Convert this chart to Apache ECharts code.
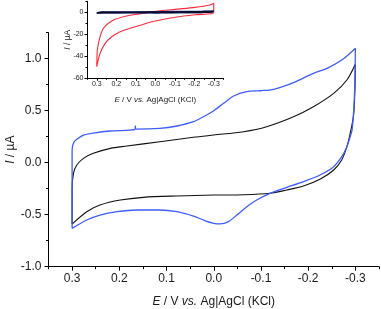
<!DOCTYPE html>
<html><head><meta charset="utf-8">
<script src="https://cdn.jsdelivr.net/npm/echarts@6/dist/echarts.min.js"></script>
<style>html,body{margin:0;padding:0;background:#fff}#c{width:381px;height:309px}</style>
</head><body><div id="c"></div>
<script>
// ---- data (E in V, I in µA) ----
const blueUpE = [0.300, 0.300, 0.297, 0.290, 0.276, 0.255, 0.220, 0.167, 0.166, 0.165, 0.114, 0.078, 0.043, 0.015, 0.000, -0.021, -0.042, -0.070, -0.098, -0.127, -0.169, -0.211, -0.240, -0.275, -0.300];
const blueUpI = [-0.631, 0.122, 0.190, 0.225, 0.266, 0.285, 0.305, 0.320, 0.355, 0.322, 0.330, 0.353, 0.394, 0.459, 0.500, 0.571, 0.641, 0.683, 0.692, 0.706, 0.770, 0.859, 0.907, 1.000, 1.100];
const blueLowE = [-0.300, -0.299, -0.297, -0.293, -0.289, -0.282, -0.271, -0.254, -0.225, -0.190, -0.155, -0.119, -0.091, -0.070, -0.049, -0.031, -0.014, 0.000, 0.022, 0.043, 0.078, 0.114, 0.163, 0.205, 0.241, 0.269, 0.300];
const blueLowI = [1.100, 0.800, 0.550, 0.314, 0.250, 0.154, 0.058, -0.038, -0.118, -0.182, -0.237, -0.294, -0.359, -0.423, -0.503, -0.567, -0.589, -0.583, -0.551, -0.513, -0.471, -0.455, -0.455, -0.471, -0.503, -0.551, -0.631];
const blackUpE = [0.300, 0.300, 0.297, 0.290, 0.276, 0.255, 0.219, 0.184, 0.114, 0.043, 0.000, -0.063, -0.112, -0.169, -0.211, -0.254, -0.282, -0.300];
const blackUpI = [-0.590, -0.250, -0.100, -0.022, 0.042, 0.090, 0.138, 0.160, 0.202, 0.244, 0.266, 0.298, 0.346, 0.442, 0.538, 0.667, 0.795, 0.949];
const blackLowE = [-0.300, -0.299, -0.296, -0.289, -0.282, -0.271, -0.254, -0.225, -0.190, -0.155, -0.119, -0.063, 0.000, 0.078, 0.149, 0.198, 0.241, 0.269, 0.300];
const blackLowI = [0.949, 0.700, 0.450, 0.283, 0.154, 0.026, -0.070, -0.160, -0.224, -0.262, -0.294, -0.308, -0.311, -0.320, -0.333, -0.359, -0.407, -0.471, -0.590];
// inset red curve
const redUpE = [0.300, 0.299, 0.297, 0.283, 0.266, 0.240, 0.206, 0.163, 0.112, 0.061, 0.010, -0.100, -0.204, -0.280, -0.300];
const redUpI = [-49.4, -42.0, -34.3, -22.2, -14.5, -10.0, -6.4, -4.0, -2.2, -0.9, 0.6, 2.7, 4.5, 6.6, 8.2];
const redLowE = [-0.300, -0.204, -0.102, -0.025, 0.027, 0.078, 0.129, 0.180, 0.223, 0.257, 0.283, 0.300];
const redLowI = [-0.5, -2.2, -4.5, -7.0, -9.0, -11.8, -14.5, -17.6, -22.2, -28.2, -37.3, -49.4];
// ticks
const xMajor = [0.3, 0.2, 0.1, 0, -0.1, -0.2, -0.3];
const xMinor = [0.35, 0.25, 0.15, 0.05, -0.05, -0.15, -0.25, -0.35];
const yMajor = [-1, -0.5, 0, 0.5, 1];
const yMinor = [-0.75, -0.25, 0.25, 0.75, 1.25];
const insetYMajor = [-60, -40, -20, 0];
const insetYMinor = [-50, -30, -10, 10];

function pairs(E, I) { return E.map((e, k) => [e, I[k]]); }
const blue = pairs(blueUpE.concat(blueLowE), blueUpI.concat(blueLowI));
const black = pairs(blackUpE.concat(blackLowE), blackUpI.concat(blackLowI));
const red = pairs(redUpE.concat(redLowE), redUpI.concat(redLowI));

const FF = 'Liberation Sans';
const TC = '#1a1a1a';
const fmt1 = v => (Math.abs(v) < 1e-9 ? 0 : v).toFixed(1);

function xAxes(grid, major, minor, lenMaj, lenMin, fs, margin, nameFs, nameGap) {
  return [{
    gridIndex: grid, type: 'value', min: -0.35, max: 0.35, inverse: true, position: 'bottom',
    axisLine: { show: true, onZero: false, lineStyle: { color: '#000', width: 1 } },
    axisTick: { show: true, customValues: major, length: lenMaj, lineStyle: { color: '#000', width: 1 } },
    axisLabel: { show: true, customValues: major, formatter: fmt1, fontSize: fs, margin: margin, color: TC, fontFamily: FF },
    splitLine: { show: false },
    name: '{i|E} / V {i|vs.} Ag|AgCl (KCl)', nameLocation: 'middle', nameGap: nameGap, nameMoveOverlap: false,
    nameTextStyle: { fontSize: nameFs, color: TC, fontFamily: FF,
      rich: { i: { fontStyle: 'italic', fontSize: nameFs, color: TC, fontFamily: FF } } }
  }, {
    gridIndex: grid, type: 'value', min: -0.35, max: 0.35, inverse: true, position: 'bottom',
    axisLine: { show: false, onZero: false },
    axisTick: { show: true, customValues: minor, length: lenMin, lineStyle: { color: '#000', width: 1 } },
    axisLabel: { show: false }, splitLine: { show: false }
  }];
}
function yAxes(grid, min, max, major, minor, lenMaj, lenMin, fs, margin, fmt, nameFs, nameGap) {
  return [{
    gridIndex: grid, type: 'value', min: min, max: max, position: 'left',
    axisLine: { show: true, onZero: false, lineStyle: { color: '#000', width: 1 } },
    axisTick: { show: true, customValues: major, length: lenMaj, lineStyle: { color: '#000', width: 1 } },
    axisLabel: { show: true, customValues: major, formatter: fmt, fontSize: fs, margin: margin, color: TC, fontFamily: FF },
    splitLine: { show: false },
    name: '{i|I} / µA', nameLocation: 'middle', nameGap: nameGap, nameRotate: 90, nameMoveOverlap: false,
    nameTextStyle: { fontSize: nameFs, color: TC, fontFamily: FF,
      rich: { i: { fontStyle: 'italic', fontSize: nameFs, color: TC, fontFamily: FF } } }
  }, {
    gridIndex: grid, type: 'value', min: min, max: max, position: 'left',
    axisLine: { show: false, onZero: false },
    axisTick: { show: true, customValues: minor, length: lenMin, lineStyle: { color: '#000', width: 1 } },
    axisLabel: { show: false }, splitLine: { show: false }
  }];
}

const chart = echarts.init(document.getElementById('c'), null, { renderer: 'canvas' });
chart.setOption({
  animation: false,
  backgroundColor: '#fff',
  grid: [
    { left: 48.5, top: 32.7, width: 330.5, height: 234, containLabel: false, outerBoundsMode: 'none' },
    { left: 87, top: 1.3, width: 136.5, height: 77, containLabel: false, outerBoundsMode: 'none' }
  ],
  xAxis: xAxes(0, xMajor, xMinor, 4, 2.5, 12, 6, 12, 29)
    .concat(xAxes(1, xMajor, xMinor, 2.5, 1.5, 7, 2.5, 8, 17.5)),
  yAxis: yAxes(0, -1, 1.25, yMajor, yMinor, 4, 2.5, 12, 7, fmt1, 12, 32)
    .concat(yAxes(1, -60, 10, insetYMajor, insetYMinor, 2.5, 1.5, 7, 3.5, v => String(v), 8.5, 15)),
  series: [
    { type: 'line', xAxisIndex: 0, yAxisIndex: 0, data: black, showSymbol: false, symbol: 'none', smooth: 0.3,
      lineStyle: { color: '#111111', width: 1.1 }, z: 2 },
    { type: 'line', xAxisIndex: 0, yAxisIndex: 0, data: blue, showSymbol: false, symbol: 'none', smooth: 0.3,
      lineStyle: { color: '#3f5cff', width: 1.3 }, z: 3 },
    { type: 'line', xAxisIndex: 2, yAxisIndex: 2, data: red, showSymbol: false, symbol: 'none', smooth: 0.3,
      lineStyle: { color: '#ff2a3c', width: 1.1 }, z: 2 },
    { type: 'line', xAxisIndex: 2, yAxisIndex: 2, data: blue, showSymbol: false, symbol: 'none',
      lineStyle: { color: '#1a2a90', width: 1.4 }, z: 3 },
    { type: 'line', xAxisIndex: 2, yAxisIndex: 2, data: black, showSymbol: false, symbol: 'none',
      lineStyle: { color: '#0d0d2a', width: 1.4 }, z: 4 }
  ]
});
</script></body></html>
